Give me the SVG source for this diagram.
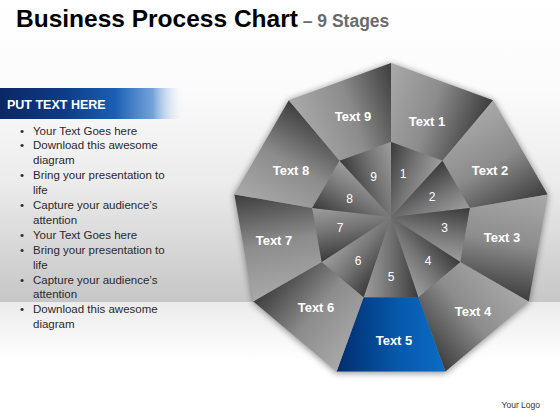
<svg xmlns="http://www.w3.org/2000/svg" xmlns:xlink="http://www.w3.org/1999/xlink" width="560" height="420" viewBox="0 0 560 420">
<defs>
<linearGradient id="wall" x1="0" y1="0" x2="0" y2="302" gradientUnits="userSpaceOnUse">
<stop offset="0" stop-color="#ffffff"/><stop offset="0.3" stop-color="#fbfbfb"/><stop offset="0.6" stop-color="#ececec"/><stop offset="1" stop-color="#c6c6c6"/>
</linearGradient>
<linearGradient id="floor" x1="0" y1="302" x2="0" y2="360" gradientUnits="userSpaceOnUse">
<stop offset="0" stop-color="#ebebeb"/><stop offset="1" stop-color="#ffffff"/>
</linearGradient>
<linearGradient id="hdr" x1="0" y1="0" x2="1" y2="0">
<stop offset="0" stop-color="#0a2864"/><stop offset="0.35" stop-color="#0e3c86"/><stop offset="0.62" stop-color="#1a5fb4"/><stop offset="0.82" stop-color="#4f8bd0" stop-opacity="0.8"/><stop offset="1" stop-color="#ffffff" stop-opacity="0"/>
</linearGradient>
<linearGradient id="outerG" x1="0" y1="0" x2="1" y2="0">
<stop offset="0" stop-color="#a9a9a9"/><stop offset="0.5" stop-color="#8c8c8c"/><stop offset="1" stop-color="#3d3d3d"/>
</linearGradient>
<linearGradient id="innerG" x1="0" y1="0" x2="1" y2="0">
<stop offset="0" stop-color="#3a3a3a"/><stop offset="0.55" stop-color="#767676"/><stop offset="1" stop-color="#9d9d9d"/>
</linearGradient>
<linearGradient id="blueG" x1="0" y1="0" x2="1" y2="0">
<stop offset="0" stop-color="#0b6cc6"/><stop offset="0.45" stop-color="#0658aa"/><stop offset="1" stop-color="#022c6e"/>
</linearGradient>
<filter id="blur" x="-20%" y="-20%" width="140%" height="140%"><feGaussianBlur stdDeviation="3.5"/></filter>
<path id="oseg" d="M-54.38,-149.41 L54.38,-149.41 L27.36,-75.18 L-27.36,-75.18 Z"/>
</defs>
<style>
.title{font-family:"Liberation Sans",Arial,sans-serif;font-weight:bold}
.bl{font-family:"Liberation Sans",Arial,sans-serif;font-size:11.5px;fill:#2a2a2a}
.lbl{font-family:"Liberation Sans",Arial,sans-serif;font-weight:bold;font-size:13px;fill:#ffffff;text-anchor:middle}
.num{font-family:"Liberation Sans",Arial,sans-serif;font-size:12px;fill:#ffffff;text-anchor:middle}
.o{fill:url(#outerG)}
.i{fill:url(#innerG)}
</style>

<rect x="0" y="0" width="560" height="302" fill="url(#wall)"/>
<rect x="0" y="302" width="560" height="118" fill="url(#floor)"/>

<text class="title" x="16" y="27" font-size="24.5" fill="#000000">Business Process Chart<tspan font-size="17.5" fill="#6b6b6b"> – 9 Stages</tspan></text>

<g id="panel">
<rect x="0" y="88" width="186" height="31" fill="url(#hdr)"/>
<text class="title" x="7" y="109" font-size="12.5" fill="#ffffff">PUT TEXT HERE</text>
<g class="bl">
<text x="20" y="134.5">•</text><text x="33" y="134.5">Your Text Goes here</text>
<text x="20" y="149.4">•</text><text x="33" y="149.4">Download this awesome</text>
<text x="33" y="164.3">diagram</text>
<text x="20" y="179.2">•</text><text x="33" y="179.2">Bring your presentation to</text>
<text x="33" y="194.1">life</text>
<text x="20" y="209">•</text><text x="33" y="209">Capture your audience’s</text>
<text x="33" y="223.9">attention</text>
<text x="20" y="238.8">•</text><text x="33" y="238.8">Your Text Goes here</text>
<text x="20" y="253.7">•</text><text x="33" y="253.7">Bring your presentation to</text>
<text x="33" y="268.6">life</text>
<text x="20" y="283.5">•</text><text x="33" y="283.5">Capture your audience’s</text>
<text x="33" y="298.4">attention</text>
<text x="20" y="313.3">•</text><text x="33" y="313.3">Download this awesome</text>
<text x="33" y="328.2">diagram</text>
</g>
</g>

<polygon points="391,64 493.2,101 547.6,195 528.7,302.5 445.4,373 336.6,373 253.3,302.5 234.4,195 288.8,101" fill="#000" opacity="0.45" filter="url(#blur)"/>

<g id="outer-segments">
<g id="seg1"><use href="#oseg" class="o" transform="translate(391,222) rotate(20)"/></g>
<g id="seg2"><use href="#oseg" class="o" transform="translate(391,222) rotate(60)"/></g>
<g id="seg3"><use href="#oseg" class="o" transform="translate(391,222) rotate(100)"/></g>
<g id="seg4"><use href="#oseg" class="o" transform="translate(391,222) rotate(140)"/></g>
<g id="seg5"><use href="#oseg" fill="url(#blueG)" transform="translate(391,222) rotate(180)"/></g>
<g id="seg6"><use href="#oseg" class="o" transform="translate(391,222) rotate(220)"/></g>
<g id="seg7"><use href="#oseg" class="o" transform="translate(391,222) rotate(260)"/></g>
<g id="seg8"><use href="#oseg" class="o" transform="translate(391,222) rotate(300)"/></g>
<g id="seg9"><use href="#oseg" class="o" transform="translate(391,222) rotate(340)"/></g>
</g>

<g id="inner-segments">
<g id="in1"><path class="i" d="M-27.36,-75.18 L27.36,-75.18 L-1.71,-4.7 Z" transform="translate(391,222) rotate(20)"/></g>
<g id="in2"><path class="i" d="M-27.36,-75.18 L27.36,-75.18 L-4.33,-2.5 Z" transform="translate(391,222) rotate(60)"/></g>
<g id="in3"><path class="i" d="M-27.36,-75.18 L27.36,-75.18 L-4.92,0.87 Z" transform="translate(391,222) rotate(100)"/></g>
<g id="in4"><path class="i" d="M-27.36,-75.18 L27.36,-75.18 L-3.21,3.83 Z" transform="translate(391,222) rotate(140)"/></g>
<g id="in5"><path class="i" d="M-27.36,-75.18 L27.36,-75.18 L0,5 Z" transform="translate(391,222) rotate(180)"/></g>
<g id="in6"><path class="i" d="M-27.36,-75.18 L27.36,-75.18 L3.21,3.83 Z" transform="translate(391,222) rotate(220)"/></g>
<g id="in7"><path class="i" d="M-27.36,-75.18 L27.36,-75.18 L4.92,0.87 Z" transform="translate(391,222) rotate(260)"/></g>
<g id="in8"><path class="i" d="M-27.36,-75.18 L27.36,-75.18 L4.33,-2.5 Z" transform="translate(391,222) rotate(300)"/></g>
<g id="in9"><path class="i" d="M-27.36,-75.18 L27.36,-75.18 L1.71,-4.7 Z" transform="translate(391,222) rotate(340)"/></g>
</g>

<g id="labels">
<text class="lbl" x="427" y="125.5">Text 1</text>
<text class="lbl" x="490" y="174.5">Text 2</text>
<text class="lbl" x="502" y="241.5">Text 3</text>
<text class="lbl" x="473" y="316">Text 4</text>
<text class="lbl" x="394" y="345">Text 5</text>
<text class="lbl" x="316" y="312">Text 6</text>
<text class="lbl" x="274" y="245">Text 7</text>
<text class="lbl" x="291" y="174.5">Text 8</text>
<text class="lbl" x="353" y="121">Text 9</text>
<text class="num" x="403" y="177.5">1</text>
<text class="num" x="432" y="201">2</text>
<text class="num" x="444.5" y="231.5">3</text>
<text class="num" x="428" y="265">4</text>
<text class="num" x="391" y="281">5</text>
<text class="num" x="358" y="265">6</text>
<text class="num" x="340" y="231.5">7</text>
<text class="num" x="349.5" y="202.5">8</text>
<text class="num" x="373.5" y="181">9</text>
</g>

<g id="connectors"/>

<text x="540" y="408" font-family="'Liberation Sans',Arial,sans-serif" font-size="8.5" fill="#333333" text-anchor="end">Your Logo</text>
</svg>
